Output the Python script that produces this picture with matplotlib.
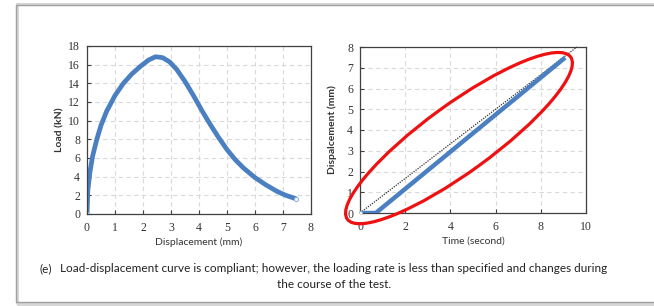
"""Load-displacement and displacement-time panels with caption frame."""
import matplotlib
matplotlib.use("Agg")
import matplotlib.pyplot as plt
from matplotlib.patches import Ellipse, Rectangle
from matplotlib.transforms import IdentityTransform

# ── Data ────────────────────────────────────────────────────────────────────
disp_mm = [0, 0.03, 0.1, 0.2, 0.35, 0.5, 0.7, 1.0, 1.3, 1.6, 1.9, 2.2, 2.45,
           2.7, 2.95, 3.2, 3.5, 3.8, 4.1, 4.4, 4.7, 5.0, 5.3, 5.6, 6.0, 6.4,
           6.8, 7.1, 7.45]
load_kn = [0, 2.5, 4.4, 6.2, 8.0, 9.5, 11.0, 12.7, 14.0, 15.0, 15.8, 16.5,
           16.85, 16.75, 16.3, 15.5, 14.2, 12.7, 11.1, 9.6, 8.2, 6.9, 5.8,
           4.9, 3.9, 3.1, 2.4, 2.0, 1.65]

time_s = [0, 0.7, 4.0, 9.0]
disp_t = [0, 0, 2.95, 7.42]

ref_time = [0, 9.6]
ref_disp = [0, 8.0]

caption = ("Load-displacement curve is compliant; however, the loading rate is less "
           "than specified and changes during\nthe course of the test.")

# ── Style ───────────────────────────────────────────────────────────────────
C_LINE = "#4a7fc1"
C_MARK = "#8fb3e0"
C_GRID = "#d9d9d9"
C_SPINE = "#404040"
TICK_FAMILY = "Liberation Serif"
LABEL_FONT = "Lato"

W, H = 654, 306
fig = plt.figure(figsize=(W / 100, H / 100), dpi=100)
fig.patch.set_facecolor("white")

# frame round the figure panel
fig.add_artist(Rectangle((17 / W, 1 - 304 / H), 1.0, 300 / H,
                         transform=fig.transFigure, fill=False,
                         edgecolor="#d6d6d6", lw=2.2))
fig.add_artist(Rectangle((16 / W, 1 - 302 / H), 1.0, 297 / H,
                         transform=fig.transFigure, fill=False,
                         edgecolor="#a0a0a0", lw=1.0))


def style_axes(ax, xmax, xstep, ymax, ystep):
    ax.set_xlim(0, xmax)
    ax.set_ylim(0, ymax)
    ax.set_xticks(range(0, xmax + 1, xstep))
    ax.set_yticks(range(0, ymax + 1, ystep))
    ax.tick_params(direction="in", length=3, width=0.8, color=C_SPINE,
                   labelsize=8.5)
    ax.tick_params(axis="x", pad=6)
    ax.tick_params(axis="y", pad=5)
    for lab in ax.get_xticklabels() + ax.get_yticklabels():
        lab.set_fontfamily(TICK_FAMILY)
        lab.set_color("#333333")
    for s in ax.spines.values():
        s.set_color(C_SPINE)
        s.set_linewidth(0.9)
    ax.grid(True, color=C_GRID, lw=0.8, linestyle=(0, (4, 3)))
    ax.set_axisbelow(True)


# ── Left: load vs displacement ──────────────────────────────────────────────
ax1 = fig.add_axes([87 / W, 1 - 214 / H, 224 / W, 168 / H])
style_axes(ax1, 8, 1, 18, 2)
ax1.plot(disp_mm, load_kn, color=C_LINE, lw=3.4, solid_joinstyle="round",
         solid_capstyle="round", marker="o", markevery=[0, len(disp_mm) - 1],
         ms=3, mfc="white", mec=C_MARK, mew=0.8)
ax1.set_xlabel("Displacement (mm)", family=LABEL_FONT, fontsize=7.5,
               color="#333333", labelpad=2)
ax1.set_ylabel("Load (kN)", family=LABEL_FONT, fontsize=7.5, fontweight="bold",
               color="#333333", labelpad=3)

# ── Right: displacement vs time ─────────────────────────────────────────────
ax2 = fig.add_axes([360 / W, 1 - 213 / H, 226 / W, 166 / H])
style_axes(ax2, 10, 2, 8, 1)
ax2.plot(ref_time, ref_disp, color="#303030", lw=0.9, linestyle=(0, (1, 1)),
         clip_on=False, zorder=3)
ax2.plot(time_s, disp_t, color=C_LINE, lw=3.2, solid_joinstyle="round",
         marker="o", markevery=[0], ms=3, mfc="white", mec=C_MARK, mew=0.8,
         zorder=4)
ax2.set_xlabel("Time (second)", family=LABEL_FONT, fontsize=7.5,
               color="#333333", labelpad=2)
ax2.set_ylabel("Dispalcement (mm)", family=LABEL_FONT, fontsize=7.5,
               fontweight="bold", color="#333333", labelpad=7)

# red ellipse marking the displacement-time trend
cx, cy = ax2.transData.transform((4.38, 3.61))
fig.add_artist(Ellipse((cx, cy), 276, 68, angle=36, transform=IdentityTransform(),
                       fill=False, edgecolor="#ee1111", lw=2.3, zorder=5))

# ── Caption ─────────────────────────────────────────────────────────────────
fig.text(39 / W, 1 - 269 / H, "(e)", family=LABEL_FONT, fontsize=8.5,
         color="#222222", va="center")
fig.text(334 / W, 1 - 276.5 / H, caption, family=LABEL_FONT, fontsize=8.5,
         color="#222222", ha="center", va="center", linespacing=1.45)

fig.savefig("out.png", dpi=100, facecolor="white")
plt.close(fig)
